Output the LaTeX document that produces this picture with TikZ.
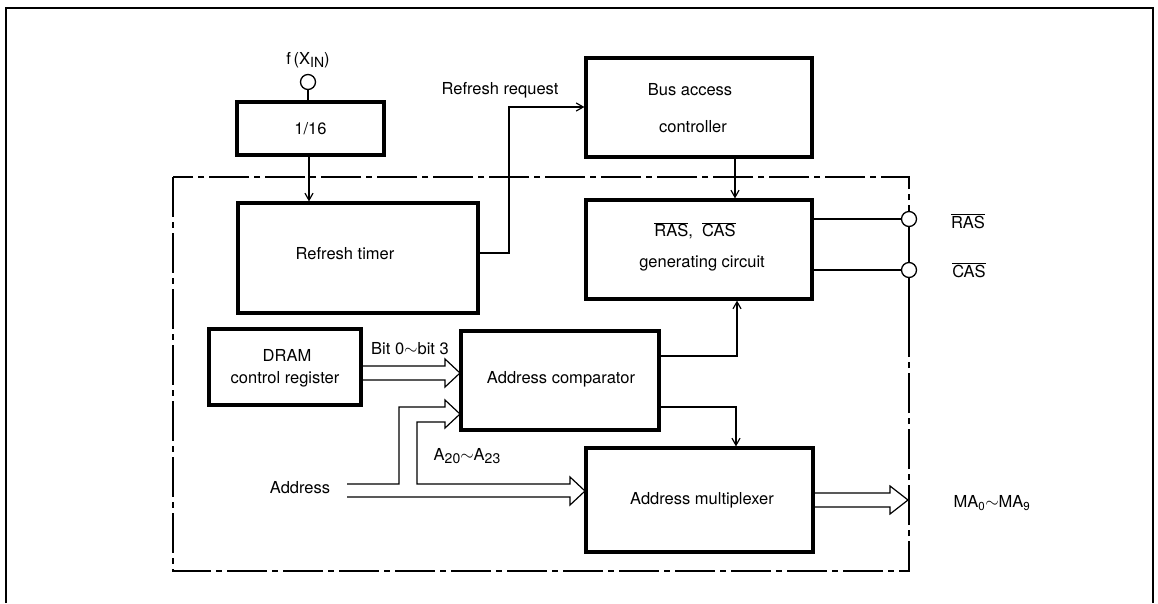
\documentclass[tikz,border=0pt]{standalone}
\usepackage{fontspec}
\setmainfont{TeX Gyre Heros}
\usetikzlibrary{arrows.meta,calc}
\newcommand\mysubs[1]{\raisebox{-0.35ex}{\fontsize{14}{15}\selectfont #1}}
\begin{document}
\begin{tikzpicture}[x=1pt,y=-1pt,
  every node/.style={font=\fontsize{16.5}{19}\selectfont, inner sep=0pt},
  blk/.style={draw, line width=3.2pt, rectangle},
  wire/.style={line width=1.2pt},
  arr/.style={wire, -{Straight Barb[length=7pt,width=8pt]}},
  bus/.style={line width=1.2pt, line join=miter},
  port/.style={draw, circle, line width=1.3pt, minimum size=15pt, fill=white},
  dashdot/.style={line width=1.3pt, dash pattern=on 40pt off 5pt on 6pt off 5pt},
]
\useasboundingbox (0,0) rectangle (1158,603);

% outer frame
\draw[line width=2.8pt] (6,603) -- (6,8) -- (1153,8) -- (1153,603);
% dash-dot frame
\draw[dashdot] (173,177) rectangle (909,571);

% blocks
\node[blk, minimum width=147pt, minimum height=53pt] (div) at (310.5,128.5) {1/16};
\node[blk, minimum width=240pt, minimum height=110pt] (timer) at (358,258) {};
\node[blk, minimum width=226pt, minimum height=99pt] (bus) at (699,107.5) {};
\node[blk, minimum width=226pt, minimum height=99pt] (ras) at (699,249.5) {};
\node[blk, minimum width=152pt, minimum height=76pt] (dram) at (285,367) {};
\node[blk, minimum width=198pt, minimum height=99pt] (comp) at (560,380.5) {};
\node[blk, minimum width=227pt, minimum height=104pt] (mux) at (699.5,500) {};

% block texts
\node (ttimer) at (345,254) {Refresh timer};
\node (tbus1) at (690,90) {Bus access};
\node (tbus2) at (693,127) {controller};
\node (tras1) at (695,231) {$\overline{\mbox{RAS}}$,\ \ $\overline{\mbox{CAS}}$};
\node (tras2) at (702,263) {generating circuit};
\node (tdram1) at (287,355) {DRAM};
\node (tdram2) at (285,379) {control register};
\node (tcomp) at (561,379) {Address comparator};
\node (tmux) at (702,500) {Address multiplexer};

% ports
\draw[wire] (909,219) -- (909,320);
\node[port] (fin) at (308,82) {};
\node (lfin) at (308,60) {f\,(X\mysubs{IN})};
\node[port] (rasp) at (909,219) {};
\node[port] (casp) at (909,270) {};
\node (lras) at (968,221) {$\overline{\mbox{RAS}}$};
\node (lcas) at (969,270) {$\overline{\mbox{CAS}}$};

% connectors
\coordinate (c1) at (309,0);
\draw[wire] (fin) -- (fin |- div.north);
\draw[arr] (div.south -| c1) -- (timer.north -| c1);

\coordinate (r1) at (509,253);
\coordinate (r2) at (509,107);
\draw[arr] (timer.east |- r1) -- (r1) -- (r2) -- (bus.west |- r2);
\node (lreq) at (500,90) {Refresh request};

\coordinate (c2) at (735,0);
\draw[arr] (bus.south -| c2) -- (ras.north -| c2);
\coordinate (c3) at (737,356);
\draw[arr] (comp.east |- c3) -- (c3) -- (ras.south -| c3);
\coordinate (c4) at (736,407);
\draw[arr] (comp.east |- c4) -- (c4) -- (mux.north -| c4);

\draw[wire] (ras.east |- rasp) -- (rasp);
\draw[wire] (ras.east |- casp) -- (casp);

% bus arrows
\draw[bus] (362,366) -- (445,366) -- (445,359) -- (460,373) -- (445,387) -- (445,380) -- (362,380);
\node (lbit) at (410,349) {Bit 0$\sim$bit 3};

\draw[bus] (347,484) -- (399,484) -- (399,407) -- (445,407) -- (445,400) -- (460,414) -- (445,428) -- (445,422) -- (417,422) -- (417,484) -- (570,484) -- (570,477) -- (585,491) -- (570,505) -- (570,497) -- (347,497);
\node (laddr) at (300,488) {Address};
\node (la20) at (467,456) {A\mysubs{20}$\sim$A\mysubs{23}};

\draw[bus] (814,493) -- (890,493) -- (890,486) -- (908,500) -- (890,514) -- (890,507) -- (814,507);
\node (lma) at (992,503) {MA\textsubscript{0}$\sim$MA\textsubscript{9}};
\end{tikzpicture}
\end{document}
